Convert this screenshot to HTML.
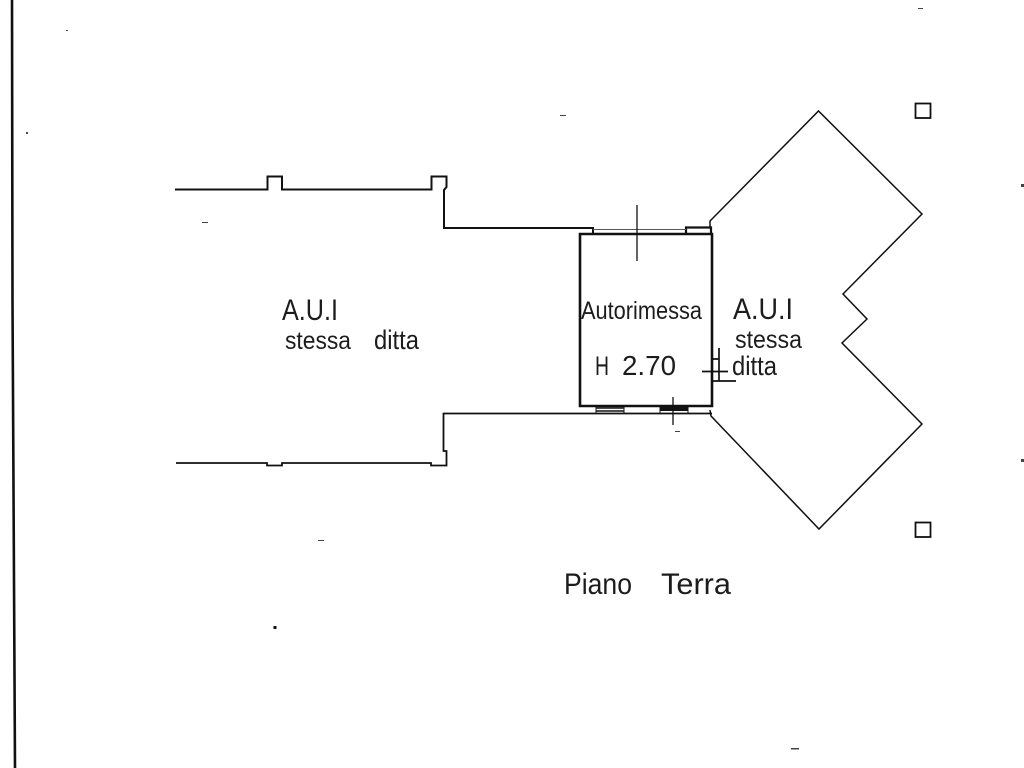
<!DOCTYPE html>
<html>
<head>
<meta charset="utf-8">
<style>
html,body{margin:0;padding:0;background:#fff;width:1024px;height:768px;overflow:hidden}
svg{display:block}
text{font-family:"Liberation Sans",sans-serif;fill:#1c1c1c}
</style>
</head>
<body>
<svg width="1024" height="768" viewBox="0 0 1024 768" xmlns="http://www.w3.org/2000/svg">
<rect width="1024" height="768" fill="#fff"/>
<!-- page border -->
<path d="M12 0 L12.5 300 L15 768" fill="none" stroke="#111" stroke-width="2.6"/>
<g fill="none" stroke="#111" stroke-linejoin="miter">
<!-- upper left wall -->
<path d="M175 189.500H267.500V176.500H282V189.500H431.500V176.500H446.500V187L444 190V228H593V234" stroke-width="2"/>
<!-- lower left wall -->
<path d="M176 463H267V465.500H282V463H431V465.500H446.500V451H443.500V413.500H712" stroke-width="1.800"/>
<!-- garage room -->
<path d="M580 234H712V406H580Z" stroke-width="2.600"/>
<path d="M686 234V227.500H711V234" stroke-width="2.200"/>
<path d="M593 229.500H686" stroke-width="1" stroke="#555"/>
<!-- window and door bottom -->
<path d="M596 408H624M596 411H624" stroke-width="1.500"/>
<path d="M660 409H688" stroke-width="4"/>
<path d="M596 406V413M624 406V413M660 406V413M688 406V413" stroke-width="1"/>
<!-- right building -->
<path d="M710 228 L710 221 L818.500 111 L922 214 L843 294 L867 319 L842 343 L922 424 L819 529 L711 416 L710 410" stroke-width="1.500"/>
<!-- ticks -->
<path d="M637 205V261M673 397V425" stroke-width="1.300"/>
<path d="M719 348V381M702 371.500H728M712 381H736M712 359H719" stroke-width="1.700"/>
<!-- squares -->
<rect x="915.500" y="103.500" width="15" height="14.500" stroke-width="1.800"/>
<rect x="915.500" y="522.500" width="15" height="14.500" stroke-width="1.800"/>
</g>
<!-- specks -->
<g fill="#444">
<rect x="273.500" y="626" width="3" height="3" fill="#111"/>
<rect x="560" y="115" width="6" height="1"/>
<rect x="202" y="222" width="6" height="1"/>
<rect x="318" y="540" width="6" height="1"/>
<rect x="791" y="748" width="8" height="1.500"/>
<rect x="1021" y="184" width="3" height="3"/>
<rect x="1021" y="459" width="3" height="3"/>
<rect x="918" y="8" width="5" height="1"/>
<rect x="26" y="132" width="2" height="2"/>
<rect x="66" y="30" width="2" height="1"/>
<rect x="675" y="431" width="5" height="1"/>
</g>
<!-- labels -->
<text x="282" y="320" font-size="30" textLength="56" lengthAdjust="spacingAndGlyphs">A.U.I</text>
<text x="285" y="349" font-size="25" textLength="66" lengthAdjust="spacingAndGlyphs">stessa</text>
<text x="374" y="349" font-size="27" textLength="45" lengthAdjust="spacingAndGlyphs">ditta</text>
<text x="581" y="319" font-size="25" textLength="121" lengthAdjust="spacingAndGlyphs">Autorimessa</text>
<text x="595" y="375" font-size="27" textLength="14" lengthAdjust="spacingAndGlyphs">H</text>
<text x="622" y="375" font-size="28" textLength="54" lengthAdjust="spacingAndGlyphs">2.70</text>
<text x="733" y="319" font-size="30" textLength="60" lengthAdjust="spacingAndGlyphs">A.U.I</text>
<text x="735" y="348" font-size="25" textLength="67" lengthAdjust="spacingAndGlyphs">stessa</text>
<text x="732" y="375" font-size="27" textLength="45" lengthAdjust="spacingAndGlyphs">ditta</text>
<text x="564" y="594" font-size="30" textLength="68" lengthAdjust="spacingAndGlyphs">Piano</text>
<text x="661" y="594" font-size="30" textLength="70" lengthAdjust="spacingAndGlyphs">Terra</text>
</svg>
</body>
</html>
